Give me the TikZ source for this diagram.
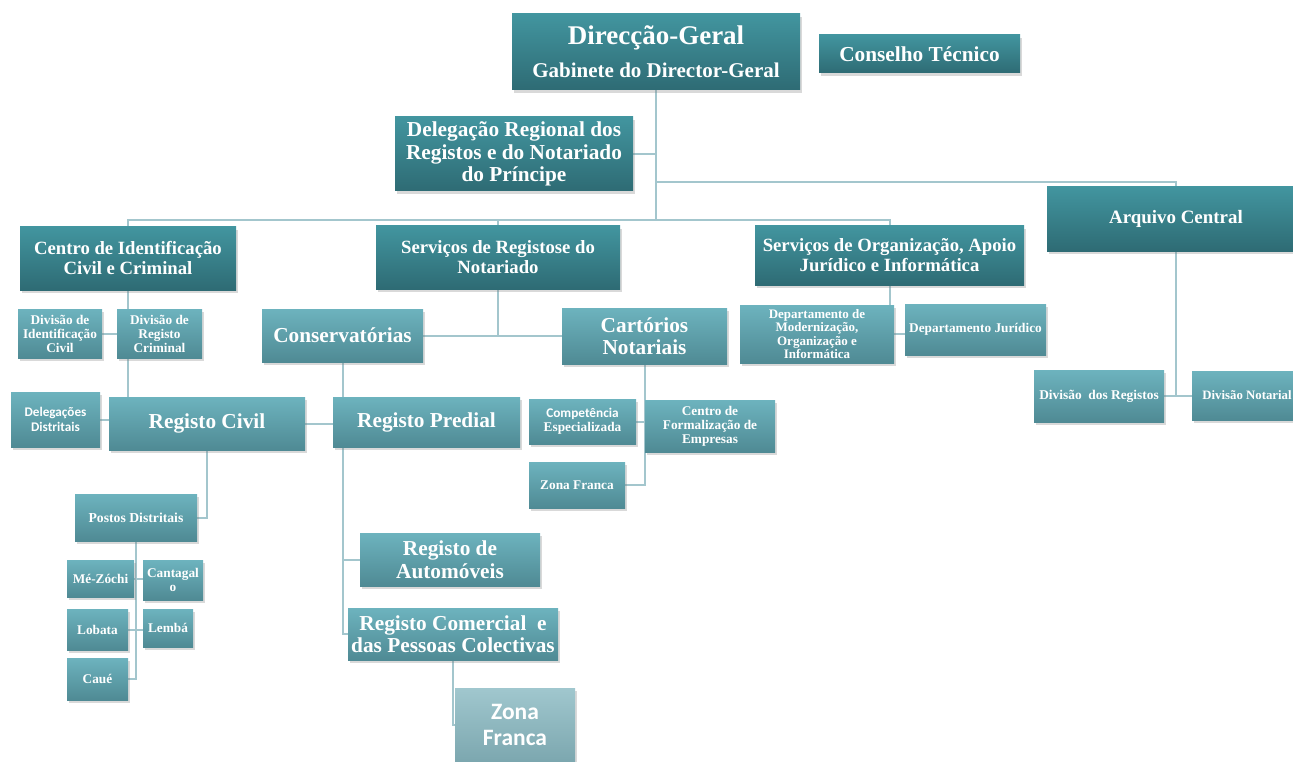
\documentclass[tikz,border=0pt]{standalone}
\usepackage{fontspec}
\setmainfont{Liberation Serif}
\newfontfamily\carlito{Carlito}
\usetikzlibrary{shadows,backgrounds}
\definecolor{darktop}{HTML}{42959F}
\definecolor{darkbot}{HTML}{2E6B74}
\definecolor{lighttop}{HTML}{6DB3BE}
\definecolor{lightbot}{HTML}{4F8A94}
\definecolor{paletop}{HTML}{A0C7CE}
\definecolor{palebot}{HTML}{7CA7AF}
\definecolor{linkcol}{HTML}{A3C6CD}
\tikzset{%
  orgbox/.style     = {text=white, inner sep=1pt, align=center,
                       drop shadow={opacity=.3, shadow xshift=2pt, shadow yshift=-3pt}},
  darkbox/.style    = {orgbox, top color=darktop, bottom color=darkbot},
  lightbox/.style   = {orgbox, top color=lighttop, bottom color=lightbot},
  palebox/.style    = {orgbox, top color=paletop, bottom color=palebot},
  boxsize/.style 2 args = {minimum width=#1pt, minimum height=#2pt},
  fbig/.style       = {font=\bfseries\fontsize{21.3}{22.5}\selectfont},
  fmid/.style       = {font=\bfseries\fontsize{18.7}{20}\selectfont},
  fsmall/.style     = {font=\bfseries\fontsize{13.3}{14}\selectfont},
  link/.style       = {draw=linkcol, line width=2pt}}
\begin{document}
\begin{tikzpicture}[x=1pt,y=-1pt]
  \useasboundingbox (0,0) rectangle (1293,762);
  % top level
  \node[darkbox,boxsize={288}{76},font=\bfseries] (direc) at (656,52)
       {{\fontsize{27}{30}\selectfont Direcção-Geral}\\[12pt]{\fontsize{21}{22}\selectfont Gabinete do Director-Geral}};
  \node[darkbox,boxsize={201}{38},font=\bfseries\fontsize{21.3}{22}\selectfont] (cons tec) at (919.5,54) {Conselho Técnico};
  \node[darkbox,boxsize={238}{74},fbig] (deleg) at (514,154)
       {Delegação Regional dos\\Registos e do Notariado\\do Príncipe};
  \node[darkbox,boxsize={258}{64},font=\bfseries\fontsize{18.9}{21}\selectfont] (arquivo) at (1176,219) {Arquivo Central};
  % services
  \node[darkbox,boxsize={216}{63},fmid] (cic)  at (128,258.5) {Centro de Identificação\\Civil e Criminal};
  \node[darkbox,boxsize={244}{63},fmid] (srn)  at (498,257.5) {Serviços de Registose do\\Notariado};
  \node[darkbox,boxsize={269}{59},fmid] (sorg) at (889.5,255.5) {Serviços de Organização, Apoio\\Jurídico e Informática};
  % second level
  \node[lightbox,boxsize={84}{49},fsmall]  (dic)  at (60,333.5)    {Divisão de\\Identificação\\Civil};
  \node[lightbox,boxsize={85}{49},fsmall]  (drc)  at (159.5,333.5) {Divisão de\\Registo\\Criminal};
  \node[lightbox,boxsize={161}{53},fbig]   (cons) at (342.5,335.5) {Conservatórias};
  \node[lightbox,boxsize={165}{56},fbig]   (cart) at (644.5,336)   {Cartórios\\Notariais};
  \node[lightbox,boxsize={154}{58},font=\bfseries\fontsize{13}{13.6}\selectfont] (dmod) at (817,334)
       {Departamento de\\Modernização,\\Organização e\\Informática};
  \node[lightbox,boxsize={141}{51},fsmall] (djur) at (975.5,329.5) {Departamento Jurídico};
  \node[lightbox,boxsize={130}{52},font=\bfseries\fontsize{13.4}{14}\selectfont] (dreg) at (1099,396) {Divisão~~dos Registos};
  \node[lightbox,boxsize={110}{49},font=\bfseries\fontsize{12.8}{14}\selectfont] (dnot) at (1247,395.5) {Divisão Notarial};
  % registos
  \node[lightbox,boxsize={89}{55},font=\carlito\bfseries\fontsize{13.2}{15}\selectfont] (deld) at (55.5,419.5)
       {Delegações\\Distritais};
  \node[lightbox,boxsize={196}{53},fbig] (rcivil)   at (207,423.5)   {Registo Civil};
  \node[lightbox,boxsize={187}{50},fbig] (rpredial) at (426.5,422)   {Registo Predial};
  \node[lightbox,boxsize={180}{53},fbig] (rauto)    at (450,559.5)   {Registo de\\Automóveis};
  \node[lightbox,boxsize={210}{52},fbig] (rcom)     at (453,634)     {Registo Comercial~~e\\das Pessoas Colectivas};
  \node[palebox,boxsize={120}{74},font=\carlito\bfseries\fontsize{23.5}{26}\selectfont] (zfbig) at (515,725) {Zona\\Franca};
  % notariado
  \node[lightbox,boxsize={107}{45},fsmall] (comp) at (582.5,421.5) {{\carlito Competência}\\Especializada};
  \node[lightbox,boxsize={130}{52},fsmall] (cfe)  at (710,426)     {Centro de\\Formalização de\\Empresas};
  \node[lightbox,boxsize={96}{46},fsmall]  (zfsm) at (577,485)     {Zona Franca};
  % postos
  \node[lightbox,boxsize={122}{47},font=\bfseries\fontsize{13.7}{14}\selectfont] (postos) at (136,517.5) {Postos Distritais};
  \foreach \nm/\px/\py/\w/\h/\txt in {mez/100.5/578.5/67/37/Mé-Zóchi, cant/173/580/60/40/Cantagal\\o,
                                      lob/97.5/629.5/61/41/Lobata, lemba/168/628/50/38/Lembá,
                                      caue/97.5/679/61/42/Caué}
    \node[lightbox,boxsize={\w}{\h},fsmall] (\nm) at (\px,\py) {\txt};

  \begin{pgfonlayer}{background}
    \coordinate (bus)  at (656,220);
    \coordinate (arqj) at (656,182);
    \draw[link] (direc.south) -- (bus);
    \draw[link] (deleg.east) -- (deleg.east -| direc.south);
    \draw[link] (arqj) -| (arquivo.north);
    \draw[link] (cic.north) |- (bus) -| (sorg.north);
    \draw[link] (srn.north) -- (srn.north |- bus);
    % centro
    \draw[link] (cic.south) -- (cic.south |- rcivil.north);
    \draw[link] (dic.east) -- (drc.west);
    \draw[link] (deld.east) -- (deld.east -| rcivil.west);
    \draw[link] (rcivil.east) -- (rcivil.east -| rpredial.west);
    \draw[link] (rcivil.south) |- (postos.east);
    \draw[link] (postos.south) |- (caue.east);
    \draw[link] (mez.east) -- (mez.east -| cant.west);
    \draw[link] (lob.east) -- (lob.east -| lemba.west);
    % conservatorias
    \draw[link] (srn.south) |- (cons.east);
    \draw[link] (srn.south) |- (cart.west);
    \draw[link] (cons.south) |- (rcom.west);
    \draw[link] (cons.south |- rauto.west) -- (rauto.west);
    \draw[link] (rcom.south) |- (zfbig.west);
    % cartorios
    \draw[link] (cart.south) |- (zfsm.east);
    \draw[link] (comp.east) -- (comp.east -| cart.south);
    % organizacao
    \draw[link] (sorg.south) -- (sorg.south |- dmod.north);
    \draw[link] (dmod.east) -- (dmod.east -| djur.west);
    \draw[link] (arquivo.south) |- (dreg.east);
    \draw[link] (dreg.east) -- (dreg.east -| dnot.west);
  \end{pgfonlayer}
\end{tikzpicture}
\end{document}
